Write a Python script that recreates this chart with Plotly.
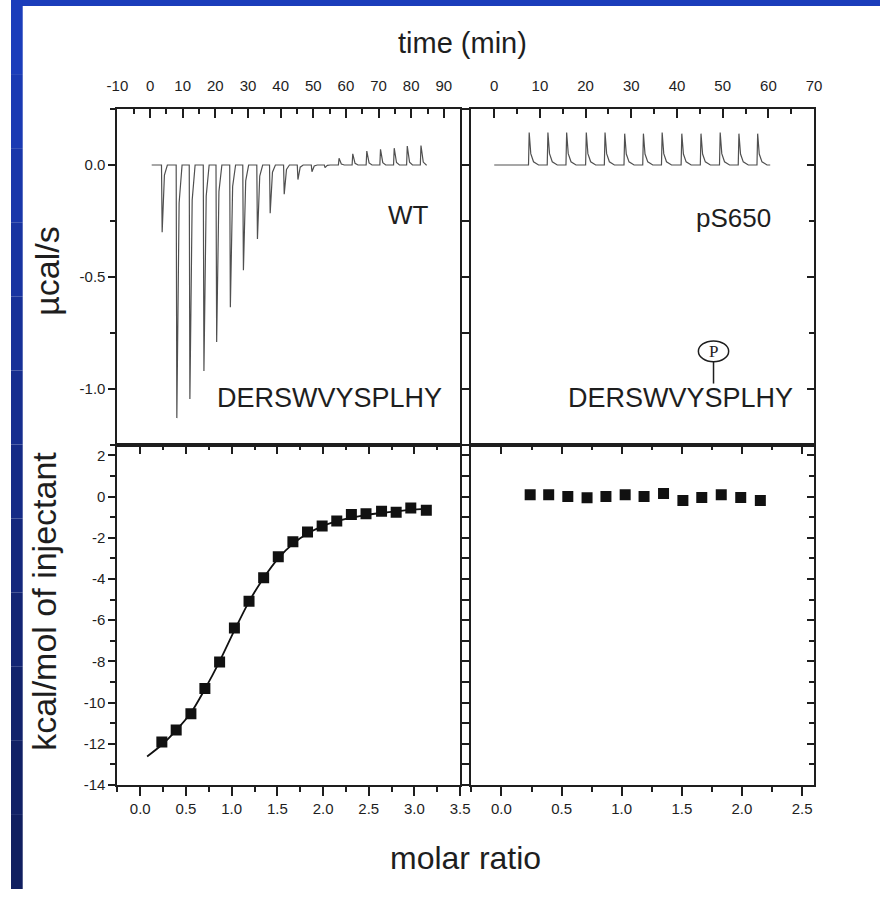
import plotly.graph_objects as go

W, H = 890, 897

# ---------------- data ----------------
# raw ITC thermogram, WT peptide (minutes, µcal/s)
wt_time_start = 0.5
wt_time_end = 84.8
wt_inj_time = [3.5, 8.0, 12.0, 16.3, 20.2, 24.4, 28.4, 32.7, 36.6, 40.9,
               45.1, 49.4, 53.4, 57.7, 61.9, 66.2, 70.4, 74.6, 78.6, 82.8]
wt_peak = [-0.30, -1.13, -1.045, -0.92, -0.79, -0.635, -0.47, -0.33, -0.215, -0.13,
           -0.065, -0.03, -0.012, 0.03, 0.05, 0.062, 0.07, 0.075, 0.085, 0.087]
wt_spike_dt = [0.0, 0.2, 0.9, 1.8]
wt_spike_frac = [0.0, 1.0, 0.15, 0.0]

# raw ITC thermogram, pS650 peptide
ps_time_start = 0.0
ps_time_end = 60.4
ps_inj_time = [7.5, 11.6, 15.7, 20.0, 24.1, 28.4, 32.5, 36.6, 40.9, 45.1, 49.3, 53.4, 57.5]
ps_peak = [0.145, 0.145, 0.145, 0.145, 0.145, 0.14, 0.14, 0.145, 0.14, 0.14, 0.145, 0.14, 0.14]
ps_spike_dt = [0.0, 0.15, 0.5, 1.1, 2.2]
ps_spike_frac = [0.0, 1.0, 0.35, 0.1, 0.0]

# integrated heats (kcal/mol of injectant vs molar ratio)
wt_ratio = [0.236, 0.393, 0.554, 0.707, 0.868, 1.03, 1.19, 1.35, 1.51, 1.67,
            1.83, 1.99, 2.15, 2.31, 2.47, 2.64, 2.80, 2.96, 3.13]
wt_heat = [-11.92, -11.33, -10.55, -9.32, -8.03, -6.38, -5.09, -3.94, -2.92, -2.20,
           -1.72, -1.43, -1.19, -0.87, -0.84, -0.71, -0.76, -0.56, -0.67]
wt_fit_ratio = [0.075, 0.236, 0.393, 0.554, 0.707, 0.868, 1.03, 1.19, 1.35, 1.51,
                1.67, 1.83, 1.99, 2.15, 2.31, 2.47, 2.64, 2.80, 2.96, 3.13]
wt_fit_heat = [-12.62, -12.05, -11.35, -10.5, -9.35, -8.0, -6.5, -5.1, -3.95, -3.0,
               -2.3, -1.8, -1.45, -1.2, -1.02, -0.9, -0.8, -0.72, -0.65, -0.6]

ps_ratio = [0.239, 0.393, 0.552, 0.712, 0.869, 1.029, 1.186, 1.348, 1.509, 1.666,
            1.828, 1.990, 2.153]
ps_heat = [0.08, 0.08, 0.0, -0.06, 0.0, 0.08, 0.0, 0.14, -0.19, -0.05, 0.08, -0.05, -0.19]

# tick values / labels
time_wt_ticks = [-10, 0, 10, 20, 30, 40, 50, 60, 70, 80, 90]
time_wt_labels = ["-10", "0", "10", "20", "30", "40", "50", "60", "70", "80", "90"]
time_ps_ticks = [0, 10, 20, 30, 40, 50, 60, 70]
time_ps_labels = ["0", "10", "20", "30", "40", "50", "60", "70"]
power_ticks = [-1.0, -0.5, 0.0]
power_labels = ["-1.0", "-0.5", "0.0"]
heat_ticks = [-14, -12, -10, -8, -6, -4, -2, 0, 2]
heat_labels = ["-14", "-12", "-10", "-8", "-6", "-4", "-2", "0", "2"]
ratio_wt_ticks = [0.0, 0.5, 1.0, 1.5, 2.0, 2.5, 3.0, 3.5]
ratio_wt_labels = ["0.0", "0.5", "1.0", "1.5", "2.0", "2.5", "3.0", "3.5"]
ratio_ps_ticks = [0.0, 0.5, 1.0, 1.5, 2.0, 2.5]
ratio_ps_labels = ["0.0", "0.5", "1.0", "1.5", "2.0", "2.5"]


def thermogram(t0, t1, times, peaks, dts, fracs):
    xs, ys = [t0], [0.0]
    for t, p in zip(times, peaks):
        for dt, f in zip(dts, fracs):
            xs.append(t + dt)
            ys.append(p * f)
    xs.append(t1)
    ys.append(0.0)
    return xs, ys


# ---------------- layout geometry (pixels) ----------------
def fx(px):
    return px / W


def fy(py):
    return 1 - py / H


XL = [fx(109), fx(460)]
XR = [fx(471.5), fx(822.5)]
YT = [fy(449), fy(110)]
YB = [fy(792), fy(449)]

INK = "#1e1e1e"
TICK_FONT = dict(family="Liberation Sans, Arial, sans-serif", size=15, color=INK)
TEXT_FONT = "Liberation Sans, Arial, Helvetica, sans-serif"

fig = go.Figure()

wx, wy = thermogram(wt_time_start, wt_time_end, wt_inj_time, wt_peak, wt_spike_dt, wt_spike_frac)
fig.add_trace(go.Scatter(x=wx, y=wy, mode="lines", line=dict(color="#505050", width=1.2),
                         xaxis="x", yaxis="y", showlegend=False, hoverinfo="skip"))
px_, py_ = thermogram(ps_time_start, ps_time_end, ps_inj_time, ps_peak, ps_spike_dt, ps_spike_frac)
fig.add_trace(go.Scatter(x=px_, y=py_, mode="lines", line=dict(color="#505050", width=1.2),
                         xaxis="x2", yaxis="y2", showlegend=False, hoverinfo="skip"))

fig.add_trace(go.Scatter(x=wt_fit_ratio, y=wt_fit_heat, mode="lines",
                         line=dict(color="#111", width=1.8, shape="spline", smoothing=0.8),
                         xaxis="x3", yaxis="y3", showlegend=False, hoverinfo="skip"))
fig.add_trace(go.Scatter(x=wt_ratio, y=wt_heat, mode="markers",
                         marker=dict(symbol="square", size=11, color="#111", line=dict(width=0)),
                         xaxis="x3", yaxis="y3", showlegend=False))
fig.add_trace(go.Scatter(x=ps_ratio, y=ps_heat, mode="markers",
                         marker=dict(symbol="square", size=11, color="#111", line=dict(width=0)),
                         xaxis="x4", yaxis="y4", showlegend=False))

# dummy traces so the overlay axes get drawn
for xa, ya in [("x5", "y3"), ("x6", "y4"), ("x2", "y5"), ("x4", "y6")]:
    fig.add_trace(go.Scatter(x=[None], y=[None], mode="markers", xaxis=xa, yaxis=ya,
                             showlegend=False, hoverinfo="skip"))


def ax(**kw):
    base = dict(showline=True, linecolor=INK, linewidth=2, showgrid=False, zeroline=False,
                tickcolor=INK, tickwidth=1.5, ticklen=9, tickfont=TICK_FONT, tickmode="array")
    base.update(kw)
    return base


def minor(dtick, tick0, ticks):
    return dict(dtick=dtick, tick0=tick0, ticklen=5, tickwidth=1.5, tickcolor=INK,
                ticks=ticks, showgrid=False)


fig.update_layout(
    width=W, height=H, autosize=False, margin=dict(l=0, r=0, t=0, b=0, pad=0),
    paper_bgcolor="white", plot_bgcolor="white", showlegend=False,
    # panel A (WT raw)
    xaxis=ax(domain=XL, anchor="y", side="top", range=[-10, 95], ticks="inside",
             tickvals=time_wt_ticks, ticktext=time_wt_labels, mirror=True,
             minor=minor(5, 0, "inside"), ticklabelstandoff=10),
    yaxis=ax(domain=YT, anchor="x", range=[-1.25, 0.25], ticks="outside", ticklen=7,
             tickvals=power_ticks, ticktext=power_labels, mirror="ticks",
             minor=minor(0.25, 0, "outside")),
    # panel B (pS650 raw)
    xaxis2=ax(domain=XR, anchor="y2", side="top", range=[-5, 70], ticks="inside",
              tickvals=time_ps_ticks, ticktext=time_ps_labels, mirror=True,
              minor=minor(5, 0, "inside"), ticklabelstandoff=10),
    yaxis2=ax(domain=YT, anchor="x2", range=[-1.25, 0.25], ticks="outside", ticklen=7,
              tickvals=power_ticks, showticklabels=False, mirror=True,
              minor=minor(0.25, 0, "outside")),
    yaxis5=ax(overlaying="y2", anchor="x2", side="right", range=[-1.25, 0.25], ticks="inside",
              ticklen=7, tickvals=power_ticks, showticklabels=False, showline=False,
              minor=minor(0.25, 0, "inside")),
    # panel C (WT heats)
    xaxis3=ax(domain=XL, anchor="y3", range=[-0.25, 3.5], ticks="outside",
              tickvals=ratio_wt_ticks, ticktext=ratio_wt_labels, mirror=True,
              minor=minor(0.25, 0, "outside")),
    xaxis5=ax(overlaying="x3", anchor="y3", side="top", range=[-0.25, 3.5], ticks="inside",
              tickvals=ratio_wt_ticks, showticklabels=False, showline=False,
              minor=minor(0.25, 0, "inside")),
    yaxis3=ax(domain=YB, anchor="x3", range=[-14, 2.5], ticks="outside", ticklen=7,
              tickvals=heat_ticks, ticktext=heat_labels, mirror="ticks",
              minor=minor(1, 0, "outside")),
    # panel D (pS650 heats)
    xaxis4=ax(domain=XR, anchor="y4", range=[-0.25, 2.6], ticks="outside",
              tickvals=ratio_ps_ticks, ticktext=ratio_ps_labels, mirror=True,
              minor=minor(0.25, 0, "outside")),
    xaxis6=ax(overlaying="x4", anchor="y4", side="top", range=[-0.25, 2.6], ticks="inside",
              tickvals=ratio_ps_ticks, showticklabels=False, showline=False,
              minor=minor(0.25, 0, "inside")),
    yaxis4=ax(domain=YB, anchor="x4", range=[-14, 2.5], ticks="outside", ticklen=7,
              tickvals=heat_ticks, showticklabels=False, mirror=True,
              minor=minor(1, 0, "outside")),
    yaxis6=ax(overlaying="y4", anchor="x4", side="right", range=[-14, 2.5], ticks="inside",
              ticklen=7, tickvals=heat_ticks, showticklabels=False, showline=False,
              minor=minor(1, 0, "inside")),
)

# ---------------- text ----------------
def note(text, x, y, size, angle=0, family=TEXT_FONT):
    fig.add_annotation(text=text, x=fx(x), y=fy(y), xref="paper", yref="paper",
                       showarrow=False, textangle=angle, xanchor="center", yanchor="middle",
                       font=dict(family=family, size=size, color=INK))


note("time (min)", 462, 43, 29)
note("molar ratio", 465, 866, 32)
note("µcal/s", 36, 273, 34, angle=-90)
note("kcal/mol of injectant", 33, 607, 34, angle=-90)
note("WT", 407, 217, 26)
note("pS650", 740, 220, 26)
note("DERSWVYSPLHY", 326, 402, 27)
note("DERSWVYSPLHY", 686, 402, 27)
note("P", 719.5, 355, 17, family="Liberation Serif, Times New Roman, serif")

# phospho circle and stem
fig.add_shape(type="circle", xref="paper", yref="paper", x0=fx(704), x1=fx(735),
              y0=fy(365), y1=fy(344), line=dict(color=INK, width=1.5))
fig.add_shape(type="line", xref="paper", yref="paper", x0=fx(719.5), x1=fx(719.5),
              y0=fy(365), y1=fy(387), line=dict(color=INK, width=1.5))

# blue slide frame (top strip + left gradient strip)
fig.add_shape(type="rect", xref="paper", yref="paper", x0=0, x1=1, y0=fy(6), y1=1,
              fillcolor="#1b3dbb", line=dict(width=0), layer="above")
band_colors = ["#1b3dbb", "#1a3ab3", "#1937aa", "#1834a1", "#173198", "#162e8f",
               "#152b86", "#14287d", "#132574", "#12236c", "#112166", "#101f60"]
n = len(band_colors)
for i, c in enumerate(band_colors):
    fig.add_shape(type="rect", xref="paper", yref="paper", x0=0, x1=fx(12),
                  y0=1 - (i + 1) / n, y1=1 - i / n, fillcolor=c, line=dict(width=0), layer="above")

fig.write_html("out.html", config={"displayModeBar": False, "responsive": False})
